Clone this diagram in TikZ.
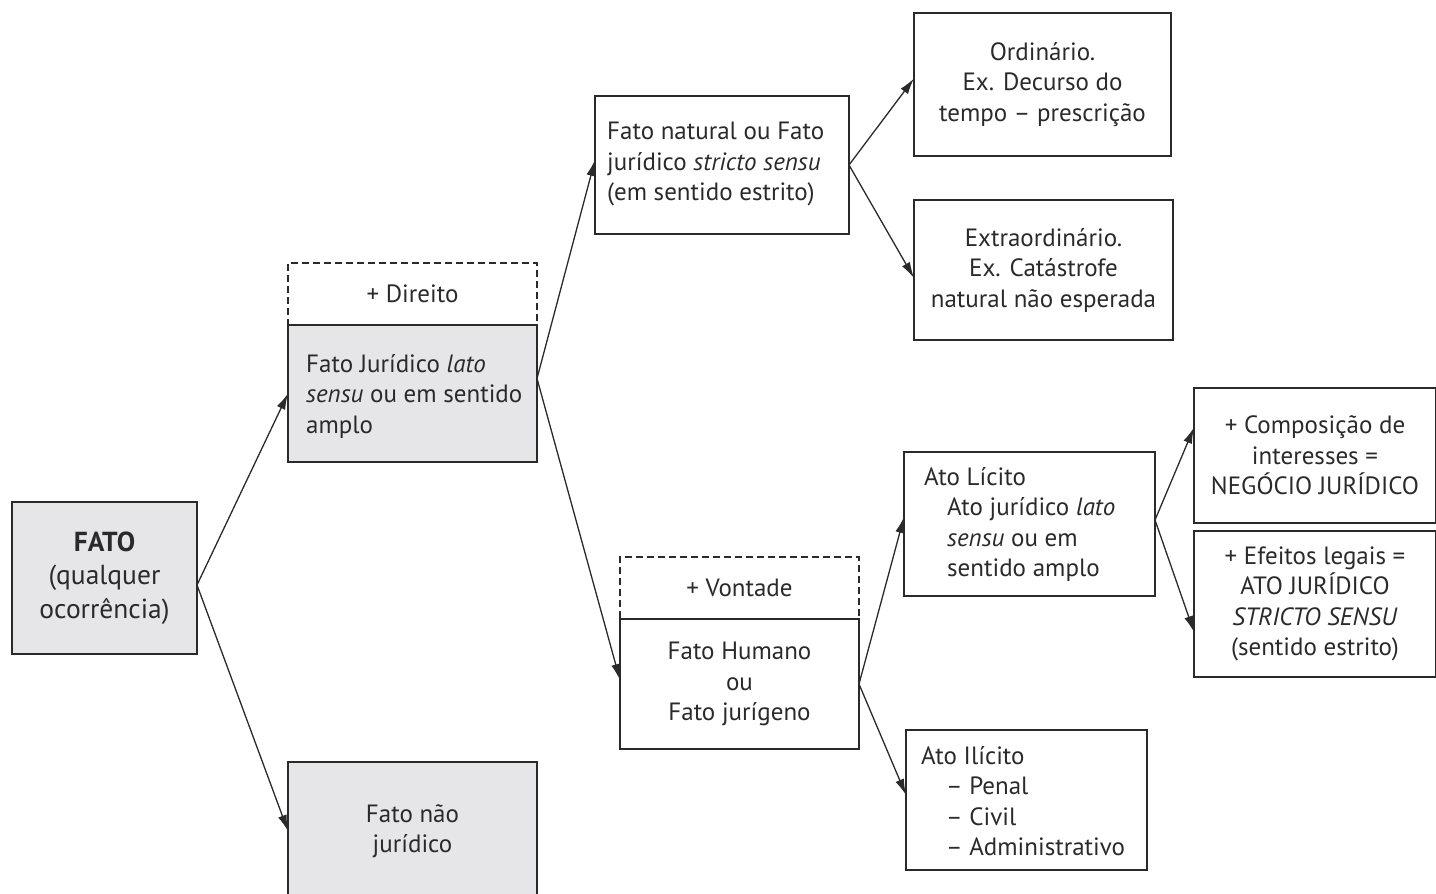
\documentclass[tikz,border=0pt]{standalone}
\usepackage{fontspec}
\setmainfont{PT Sans}
\usetikzlibrary{arrows.meta}
\definecolor{boxfill}{HTML}{E6E6E8}
\definecolor{ink}{HTML}{2A2A2A}
\begin{document}
\begin{tikzpicture}[x=1pt,y=-1pt,
  every node/.style={font=\fontsize{25}{30.5}\selectfont, text=ink},
  box/.style={draw=ink, line width=1.8pt, inner sep=0pt, outer sep=0pt, align=center},
  grey/.style={box, fill=boxfill},
  dashbox/.style={box, line width=1.5pt, dash pattern=on 7pt off 4pt},
  txt/.style={anchor=west, inner sep=0pt, align=left},
  conn/.style={draw=ink, line width=1.3pt, -{Latex[length=16pt,width=9pt]}}]
\useasboundingbox (0,0) rectangle (1436,894);

% first level
\node[grey, minimum width=185, minimum height=152, font=\fontsize{27.5}{33.5}\selectfont]
  (fato) at (104.5,578) {\textbf{FATO}\\(qualquer\\ocorrência)};

% legal facts and non-legal facts
\node[dashbox, minimum width=249, minimum height=62] (direito) at (412.5,294) {+ Direito};
\node[grey, minimum width=249, minimum height=137] (fj) at (412.5,393.5) {};
\node[txt] (fjtext) at (306,396) {Fato Jurídico \textit{lato}\\\textit{sensu} ou em sentido\\amplo};
\node[grey, minimum width=249, minimum height=138] (fnj) at (412.5,831) {Fato não\\jurídico};

% natural facts
\node[box, minimum width=254, minimum height=138] (fn) at (722,165) {};
\node[txt] (fntext) at (607,164) {Fato natural ou Fato\\jurídico \textit{stricto sensu}\\(em sentido estrito)};
\node[box, minimum width=257, minimum height=143] (ord) at (1042.5,84.5)
  {Ordinário.\\Ex. Decurso do\\tempo – prescrição};
\node[box, minimum width=259, minimum height=140] (ext) at (1043.5,270)
  {Extraordinário.\\Ex. Catástrofe\\natural não esperada};

% human facts
\node[dashbox, minimum width=239, minimum height=62] (vont) at (739.5,588) {+ Vontade};
\node[box, minimum width=239, minimum height=130] (fh) at (739.5,684) {Fato Humano\\ou\\Fato jurígeno};
\node[box, minimum width=251, minimum height=144] (al) at (1029.5,524) {};
\node[txt] (altext) at (924,524.5) {Ato Lícito\\\hspace*{23pt}Ato jurídico \textit{lato}\\\hspace*{23pt}\textit{sensu} ou em\\\hspace*{23pt}sentido amplo};
\node[box, minimum width=241, minimum height=140] (ai) at (1026.5,800) {};
\node[txt] (aitext) at (921,801) {Ato Ilícito\\\hspace*{25pt}– Penal\\\hspace*{25pt}– Civil\\\hspace*{25pt}– Administrativo};

% lawful acts
\node[box, minimum width=242, minimum height=135] (comp) at (1315,455.5)
  {+ Composição de\\interesses =\\NEGÓCIO JURÍDICO};
\node[box, minimum width=242, minimum height=146] (ef) at (1315,604)
  {+ Efeitos legais =\\ATO JURÍDICO\\\textit{STRICTO SENSU}\\(sentido estrito)};

% connectors
\draw[conn] ([yshift=-7pt]fato.east) -- (fj.west);
\draw[conn] ([yshift=-7pt]fato.east) -- (fnj.west);
\draw[conn] ([yshift=15pt]fj.east) -- ([yshift=5pt]fn.west);
\draw[conn] ([yshift=15pt]fj.east) -- ([yshift=4pt]fh.west);
\draw[conn] (fn.east) -- ([yshift=6pt]ord.west);
\draw[conn] (fn.east) -- ([yshift=-8pt]ext.west);
\draw[conn] (fh.east) -- ([yshift=7pt]al.west);
\draw[conn] (fh.east) -- ([yshift=5pt]ai.west);
\draw[conn] ([yshift=4pt]al.east) -- ([yshift=28pt]comp.west);
\draw[conn] ([yshift=4pt]al.east) -- ([yshift=-28pt]ef.west);
\end{tikzpicture}
\end{document}
